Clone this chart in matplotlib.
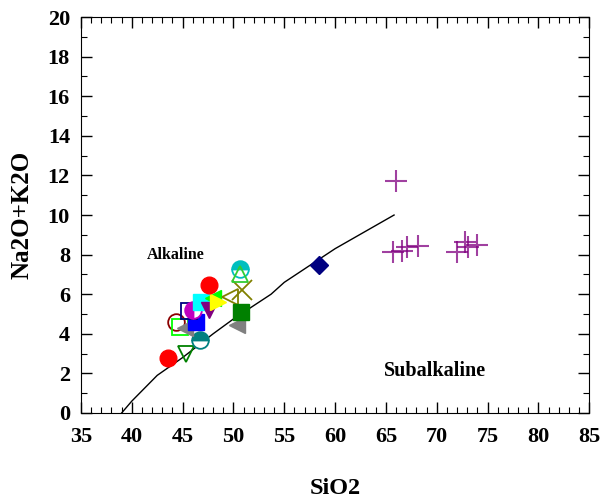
import matplotlib
matplotlib.use("Agg")
import matplotlib.pyplot as plt
from matplotlib.ticker import MultipleLocator

plt.rcParams['font.family'] = ['Liberation Serif', 'DejaVu Serif']
plt.rcParams['font.weight'] = 'bold'

# boundary line (Irvine & Baragar style)
line_x = [39.0, 40.0, 42.5, 45.0, 48.0, 50.0, 53.7, 55.0, 60.0, 65.8]
line_y = [0.0, 0.6, 1.9, 2.8, 4.0, 4.75, 6.0, 6.6, 8.3, 10.0]

# samples: (SiO2, Na2O+K2O, marker, color, fill)
sio2 = [43.6, 45.3, 46.7, 44.3, 44.7, 45.2, 50.3, 46.3, 45.6, 46.0, 46.8, 47.6,
        48.0, 48.5, 47.6, 49.7, 50.8, 50.6, 50.6, 50.75, 58.4]
alk = [2.8, 3.0, 3.7, 4.6, 4.35, 4.3, 4.45, 4.6, 5.15, 5.2, 5.6, 5.2,
       5.8, 5.6, 6.45, 5.85, 6.2, 7.25, 7.0, 5.1, 7.47]
markers = ['o', 'v', 'o', 'o', 's', '<', '<', 's', 's', 'o', 's', 'v',
           '<', '>', 'o', '<', 'x', 'o', '^', 's', 'D']
colors = ['red', 'green', 'teal', 'darkred', 'lime', 'gray', 'gray', 'blue', 'navy',
          'm', 'cyan', 'purple', 'lime', 'yellow', 'red', 'olive', 'olive', 'c',
          'limegreen', 'green', 'navy']
fills = ['full', 'none', 'top', 'none', 'none', 'full', 'full', 'full', 'none',
         'left', 'full', 'full', 'full', 'full', 'full', 'none', 'none', 'top',
         'none', 'full', 'full']

cross_x = [66.0, 65.7, 66.6, 67.1, 68.2, 72.0, 72.8, 73.1, 74.0]
cross_y = [11.7, 8.13, 8.2, 8.4, 8.45, 8.15, 8.65, 8.4, 8.5]

fig = plt.figure(figsize=(6.0, 5.03), dpi=100)
ax = fig.add_axes([0.135, 0.179, 0.847, 0.787])

ax.plot(line_x, line_y, color='black', lw=1.0, zorder=1)

for x, y, m, c, f in zip(sio2, alk, markers, colors, fills):
    kw = dict(marker=m, ms=12, color=c, ls='none', zorder=3)
    if f == 'none':
        kw.update(mfc='none', mec=c, mew=1.3)
    elif f in ('top', 'left'):
        kw.update(fillstyle=f, mfc=c, mfcalt='white', mec=c, mew=1.3)
    else:
        kw.update(mfc=c, mec=c)
    if m == 'x':
        kw.update(ms=14, mew=1.3)
    if m == 'D':
        kw.update(ms=9)
    ax.plot([x], [y], **kw)

ax.plot(cross_x, cross_y, marker='+', ms=16, mew=1.5, ls='none',
        color='purple', alpha=0.75, zorder=3)

ax.text(44.3, 8.0, 'Alkaline', fontsize=11.5, fontweight='bold', ha='center', va='center')
ax.text(69.8, 2.1, 'Subalkaline', fontsize=14.5, fontweight='bold', ha='center', va='center')

ax.set_xlim(35, 85)
ax.set_ylim(0, 20)
ax.xaxis.set_major_locator(MultipleLocator(5))
ax.xaxis.set_minor_locator(MultipleLocator(1))
ax.yaxis.set_major_locator(MultipleLocator(2))
ax.yaxis.set_minor_locator(MultipleLocator(1))
ax.tick_params(which='both', direction='in', top=True, right=True)
ax.tick_params(which='major', length=8, width=1)
ax.tick_params(which='minor', length=4, width=0.8)
ax.tick_params(axis='x', labelsize=16, pad=10)
ax.tick_params(axis='y', labelsize=16, pad=8)
for lab in ax.get_xticklabels() + ax.get_yticklabels():
    lab.set_fontweight('bold')
ax.set_xlabel('SiO2', fontsize=17.5, fontweight='bold')
ax.set_ylabel('Na2O+K2O', fontsize=18, fontweight='bold')
ax.xaxis.set_label_coords(0.5, -0.19)
ax.yaxis.set_label_coords(-0.116, 0.5)
ax.xaxis.label.set_va('center')
ax.yaxis.label.set_va('center')

fig.savefig('out.png', dpi=100)
